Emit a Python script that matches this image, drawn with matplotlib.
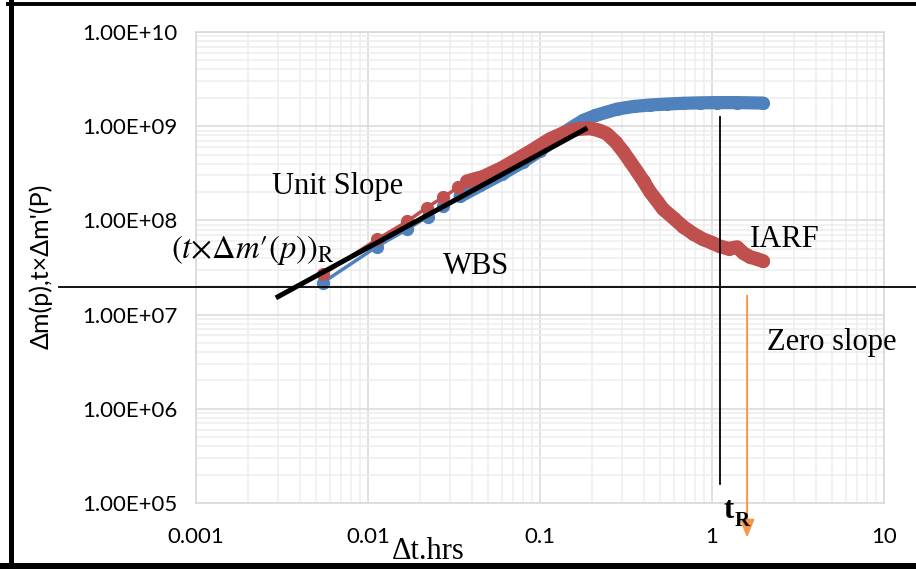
import matplotlib
matplotlib.use("Agg")
import matplotlib.pyplot as plt
from matplotlib.lines import Line2D
from matplotlib.transforms import blended_transform_factory
import numpy as np

# ---------------- data ----------------
blue_t = [0.00547, 0.01127, 0.01687, 0.0223, 0.0273, 0.0343,
          0.045, 0.06, 0.08, 0.10, 0.13, 0.16, 0.178, 0.21, 0.281, 0.35,
          0.437, 0.55, 0.678, 0.85, 1.07, 1.4, 1.98]
blue_dmp = [2.19e7, 5.28e7, 8.02e7, 1.10e8, 1.41e8, 1.80e8,
            2.35e8, 3.1e8, 4.2e8, 5.5e8, 8.0e8, 1.02e9, 1.15e9, 1.3e9, 1.52e9, 1.62e9,
            1.68e9, 1.72e9, 1.75e9, 1.77e9, 1.78e9, 1.78e9, 1.76e9]

red_t = [0.00547, 0.01127, 0.01687, 0.0220, 0.0273, 0.0334, 0.0376,
         0.0467, 0.060, 0.0735, 0.092, 0.114, 0.140, 0.164, 0.195, 0.222,
         0.245, 0.275, 0.304, 0.335, 0.367, 0.40, 0.437, 0.48, 0.519, 0.60,
         0.678, 0.78, 0.887, 1.0, 1.11, 1.25, 1.40, 1.52, 1.66, 1.82, 1.98]
red_deriv = [2.67e7, 6.28e7, 9.75e7, 1.37e8, 1.76e8, 2.24e8, 2.60e8,
             2.9e8, 3.6e8, 4.46e8, 5.7e8, 7.28e8, 8.6e8, 9.3e8, 9.5e8, 9.0e8,
             8.3e8, 6.8e8, 5.4e8, 4.2e8, 3.3e8, 2.6e8, 2.0e8, 1.6e8, 1.32e8, 1.05e8,
             8.6e7, 7.2e7, 6.3e7, 5.8e7, 5.3e7, 5.0e7, 5.2e7, 4.5e7, 4.1e7, 3.9e7, 3.7e7]

slope_t = [0.0030, 0.183]
slope_y = [1.55e7, 9.3e8]

tR = 1.11
tR_y = [1.25e9, 1.6e5]
iarf_level = 1.94e7
arrow_t = 1.6
arrow_y = [1.59e7, 4.3e4]

xticks = [0.001, 0.01, 0.1, 1, 10]
xtick_labels = ["0.001", "0.01", "0.1", "1", "10"]
yticks = [1e5, 1e6, 1e7, 1e8, 1e9, 1e10]
ytick_labels = ["1.00E+05", "1.00E+06", "1.00E+07", "1.00E+08", "1.00E+09", "1.00E+10"]

BLUE = "#4F81BD"
RED = "#C0504D"
ORANGE = "#F79646"

plt.rcParams["mathtext.fontset"] = "stix"

W, H = 916, 569
fig = plt.figure(figsize=(W / 100, H / 100), dpi=100)
fig.patch.set_facecolor("white")

def fx(x):
    return x / W

def fy(y):
    return 1 - y / H

ax = fig.add_axes([fx(196), fy(503), fx(884) - fx(196), fy(32) - fy(503)])
ax.set_xscale("log")
ax.set_yscale("log")
ax.set_xlim(0.001, 10)
ax.set_ylim(1e5, 1e10)

ax.grid(True, which="major", color="#d9d9d9", lw=1.1, zorder=0)
ax.grid(True, which="minor", color="#ededed", lw=1.1, zorder=0)
ax.set_axisbelow(True)
for s in ax.spines.values():
    s.set_color("#d9d9d9")
    s.set_linewidth(1.2)

ax.set_xticks(xticks)
ax.set_xticklabels(xtick_labels)
ax.set_yticks(yticks)
ax.set_yticklabels(ytick_labels)
ax.tick_params(which="both", length=0)
ax.tick_params(axis="y", pad=13)
ax.tick_params(axis="x", pad=17)
for lab in ax.get_xticklabels() + ax.get_yticklabels():
    lab.set_fontfamily("Lato")
    lab.set_fontsize(16)

# series
nb = 6
nr = 7
ax.plot(blue_t, blue_dmp, "-", color=BLUE, lw=2.5, marker="o", ms=8.5, zorder=3)
ax.plot(blue_t[nb - 1:], blue_dmp[nb - 1:], "-", color=BLUE, lw=9.5,
        solid_capstyle="round", solid_joinstyle="round", zorder=3)
ax.plot(red_t, red_deriv, "-", color=RED, lw=2.5, marker="o", ms=8.5, zorder=4)
ax.plot(red_t[nr - 1:], red_deriv[nr - 1:], "-", color=RED, lw=10,
        solid_capstyle="round", solid_joinstyle="round", zorder=4)

# unit slope line
ax.plot(slope_t, slope_y, "-", color="black", lw=3.6, zorder=6)

# vertical tR line
ax.plot([tR, tR], tR_y, "-", color="black", lw=1.3, zorder=6)

# horizontal zero-slope line extending across the figure
trans = blended_transform_factory(fig.transFigure, ax.transData)
ax.plot([fx(59), 1.0], [iarf_level, iarf_level], "-", color="black", lw=1.3,
        transform=trans, clip_on=False, zorder=6)

# orange arrow
ax.annotate("", xy=(arrow_t, arrow_y[1]), xytext=(arrow_t, arrow_y[0]),
            annotation_clip=False,
            arrowprops=dict(arrowstyle="-|>,head_length=1.1,head_width=0.45",
                            mutation_scale=10, color=ORANGE, lw=1.4,
                            shrinkA=0, shrinkB=0), zorder=7)

serif = "Liberation Serif"
fig.text(fx(272), fy(194), "Unit Slope", family=serif, fontsize=22, va="baseline", ha="left")
fig.text(fx(443), fy(274), "WBS", family=serif, fontsize=22, va="baseline", ha="left")
fig.text(fx(750), fy(247), "IARF", family=serif, fontsize=22, va="baseline", ha="left")
fig.text(fx(767), fy(350), "Zero slope", family=serif, fontsize=22, va="baseline", ha="left")
fig.text(fx(392), fy(559), "\u0394t.hrs", family=serif, fontsize=22, va="baseline", ha="left")
fig.text(fx(171), fy(258), r"$(t{\times}\Delta m\prime(p))_{\mathrm{R}}$", fontsize=23.5,
         va="baseline", ha="left")
fig.text(fx(724), fy(518), "t", family=serif, fontsize=22, fontweight="bold",
         va="baseline", ha="left")
fig.text(fx(735), fy(526), "R", family=serif, fontsize=15, fontweight="bold",
         va="baseline", ha="left")

fig.text(fx(41), fy(266), "\u0394m(p),t\u00d7\u0394m'(P)", family="Lato",
         fontsize=18, rotation=90, va="center", ha="center")

# figure border
fig.add_artist(Line2D([fx(10.5), fx(10.5)], [0, 1], transform=fig.transFigure,
                      color="black", lw=3.6))
fig.add_artist(Line2D([fx(8), 1], [fy(3.5), fy(3.5)], transform=fig.transFigure,
                      color="black", lw=2.8))
fig.add_artist(Line2D([0, 1], [fy(566), fy(566)], transform=fig.transFigure,
                      color="black", lw=5))

fig.savefig("out.png", dpi=100)
